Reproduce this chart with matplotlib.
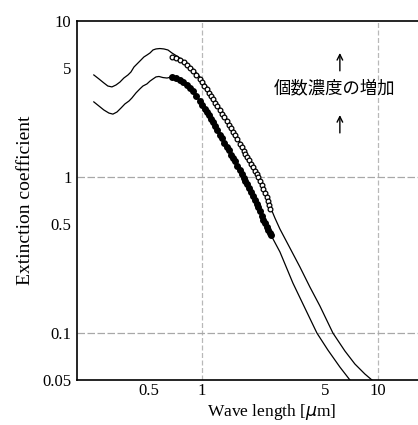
import matplotlib
matplotlib.use("Agg")
from matplotlib import pyplot as plt

# Upper thin curve (higher number concentration)
upper_wl = [0.243, 0.260, 0.277, 0.292, 0.308, 0.325, 0.342, 0.360, 0.380, 0.395,
            0.411, 0.433, 0.450, 0.468, 0.487, 0.507, 0.527, 0.548, 0.577, 0.608,
            0.641, 0.675, 0.750, 0.822, 0.889, 0.974, 1.068, 1.155, 1.266, 1.387,
            1.500, 1.644, 1.802, 1.949, 2.053, 2.193, 2.341, 2.434, 2.599, 2.775,
            3.162, 3.605, 4.109, 4.683, 5.551, 6.494, 7.401, 8.437, 9.246]
upper_ext = [4.51, 4.25, 4.01, 3.83, 3.78, 3.89, 4.06, 4.31, 4.51, 4.71,
             5.07, 5.38, 5.62, 5.88, 6.05, 6.24, 6.52, 6.62, 6.66, 6.62,
             6.52, 6.24, 5.79, 5.38, 4.92, 4.38, 3.78, 3.26, 2.77, 2.35,
             2.00, 1.68, 1.38, 1.19, 1.08, 0.915, 0.767, 0.652, 0.546, 0.464,
             0.351, 0.265, 0.197, 0.149, 0.100, 0.0767, 0.0633, 0.0546, 0.0500]

# Lower thin curve
lower_wl = [0.243, 0.260, 0.277, 0.296, 0.312, 0.329, 0.347, 0.365, 0.385, 0.400,
            0.422, 0.444, 0.462, 0.487, 0.507, 0.527, 0.548, 0.570, 0.600, 0.633,
            0.675, 0.750, 0.889, 1.068, 1.266, 1.500, 1.802, 2.053, 2.341, 2.466,
            2.775, 3.289, 3.847, 4.502, 5.198, 6.083, 6.933]
lower_ext = [3.03, 2.85, 2.69, 2.57, 2.53, 2.61, 2.77, 2.94, 3.07, 3.21,
             3.46, 3.67, 3.83, 3.95, 4.12, 4.25, 4.38, 4.41, 4.34, 4.31,
             4.38, 4.19, 3.56, 2.61, 1.86, 1.32, 0.902, 0.671, 0.478, 0.425,
             0.331, 0.209, 0.1446, 0.100, 0.0778, 0.0605, 0.0500]

# Measured points, open circles
open_wl = [0.675, 0.712, 0.750, 0.790, 0.822, 0.855, 0.889, 0.931, 0.974, 1.000,
           1.033, 1.068, 1.096, 1.125, 1.155, 1.185, 1.225, 1.266, 1.299, 1.342,
           1.387, 1.424, 1.462, 1.500, 1.540, 1.591, 1.644, 1.688, 1.733, 1.767,
           1.802, 1.849, 1.898, 1.949, 2.000, 2.053, 2.094, 2.136, 2.193, 2.236,
           2.280, 2.341, 2.371, 2.402, 2.434]
open_ext = [5.88, 5.75, 5.62, 5.42, 5.22, 5.00, 4.78, 4.51, 4.25, 4.04,
            3.83, 3.67, 3.48, 3.31, 3.16, 3.00, 2.85, 2.69, 2.55, 2.42,
            2.29, 2.17, 2.06, 1.94, 1.85, 1.74, 1.63, 1.55, 1.47, 1.40,
            1.34, 1.28, 1.21, 1.16, 1.10, 1.045, 0.993, 0.943, 0.889, 0.838,
            0.790, 0.744, 0.702, 0.661, 0.624]

# Measured points, filled circles
filled_wl = [0.675, 0.712, 0.750, 0.785, 0.822, 0.855, 0.889, 0.931, 0.974, 1.007,
             1.040, 1.068, 1.096, 1.125, 1.155, 1.185, 1.225, 1.266, 1.299, 1.342,
             1.387, 1.424, 1.462, 1.500, 1.540, 1.591, 1.644, 1.688, 1.733, 1.767,
             1.802, 1.849, 1.898, 1.949, 2.000, 2.053, 2.094, 2.136, 2.193, 2.236,
             2.280, 2.341, 2.387, 2.434, 2.466]
filled_ext = [4.38, 4.28, 4.19, 4.04, 3.89, 3.72, 3.56, 3.31, 3.07, 2.89,
              2.73, 2.61, 2.48, 2.35, 2.25, 2.12, 1.99, 1.86, 1.77, 1.65,
              1.56, 1.48, 1.39, 1.32, 1.26, 1.185, 1.11, 1.045, 0.985, 0.943,
              0.902, 0.850, 0.801, 0.756, 0.712, 0.671, 0.638, 0.606, 0.562, 0.534,
              0.507, 0.478, 0.457, 0.438, 0.425]

x_ticks = [0.5, 1, 5, 10]
x_tick_labels = ["0.5", "1", "5", "10"]
y_ticks = [0.05, 0.1, 0.5, 1, 5, 10]
y_tick_labels = ["0.05", "0.1", "0.5", "1", "5", "10"]

SERIF = ["Liberation Serif", "DejaVu Serif"]
CJK = ["Noto Sans CJK JP", "DejaVu Sans"]

fig = plt.figure(figsize=(4.18, 4.25), dpi=100)
ax = fig.add_axes([0.1842, 0.1059, 0.8158, 0.8447])
ax.set_xscale("log")
ax.set_yscale("log")
ax.set_xlim(0.195, 16.9)
ax.set_ylim(0.05, 10)

# light dashed grid at the decades
for gx in [1, 10]:
    ax.axvline(gx, color="#b8b8b8", lw=0.9, ls=(0, (4, 2)), zorder=0)
for gy in [0.1, 1]:
    ax.axhline(gy, color="#a8a8a8", lw=0.9, ls=(0, (6, 2)), zorder=0)

ax.plot(upper_wl, upper_ext, color="black", lw=0.9, zorder=2)
ax.plot(lower_wl, lower_ext, color="black", lw=0.9, zorder=2)
ax.plot(open_wl, open_ext, ls="none", marker="o", ms=3.4, mfc="white",
        mec="black", mew=0.9, zorder=3)
ax.plot(filled_wl, filled_ext, ls="none", marker="o", ms=4.0, mfc="black",
        mec="black", zorder=3)

ax.set_xticks(x_ticks)
ax.set_xticklabels(x_tick_labels)
ax.set_yticks(y_ticks)
ax.set_yticklabels(y_tick_labels)
ax.minorticks_off()
ax.tick_params(length=0, labelsize=12)
ax.tick_params(axis="x", pad=2)
ax.tick_params(axis="y", pad=4)
for lab in ax.get_xticklabels() + ax.get_yticklabels():
    lab.set_family(SERIF)

ax.spines["right"].set_visible(False)
for s in ["left", "bottom", "top"]:
    ax.spines[s].set_linewidth(1.2)

ax.set_ylabel("Extinction coefficient", family=SERIF, fontsize=14, labelpad=6)
ax.set_xlabel("Wave length [$\\mu$m]", family=SERIF, fontsize=12.5)
ax.xaxis.set_label_coords(0.57, -0.062)
ax.xaxis.label.set_va("top")

ax.text(5.7, 3.72, "個数濃度の増加", family=CJK, fontsize=12.5,
        ha="center", va="center")
ax.annotate("", xy=(6.08, 6.5), xytext=(6.08, 4.6),
            arrowprops=dict(arrowstyle="->", lw=1.0, color="black"))
ax.annotate("", xy=(6.08, 2.6), xytext=(6.08, 1.84),
            arrowprops=dict(arrowstyle="->", lw=1.0, color="black"))

fig.savefig("out.png", dpi=100)
